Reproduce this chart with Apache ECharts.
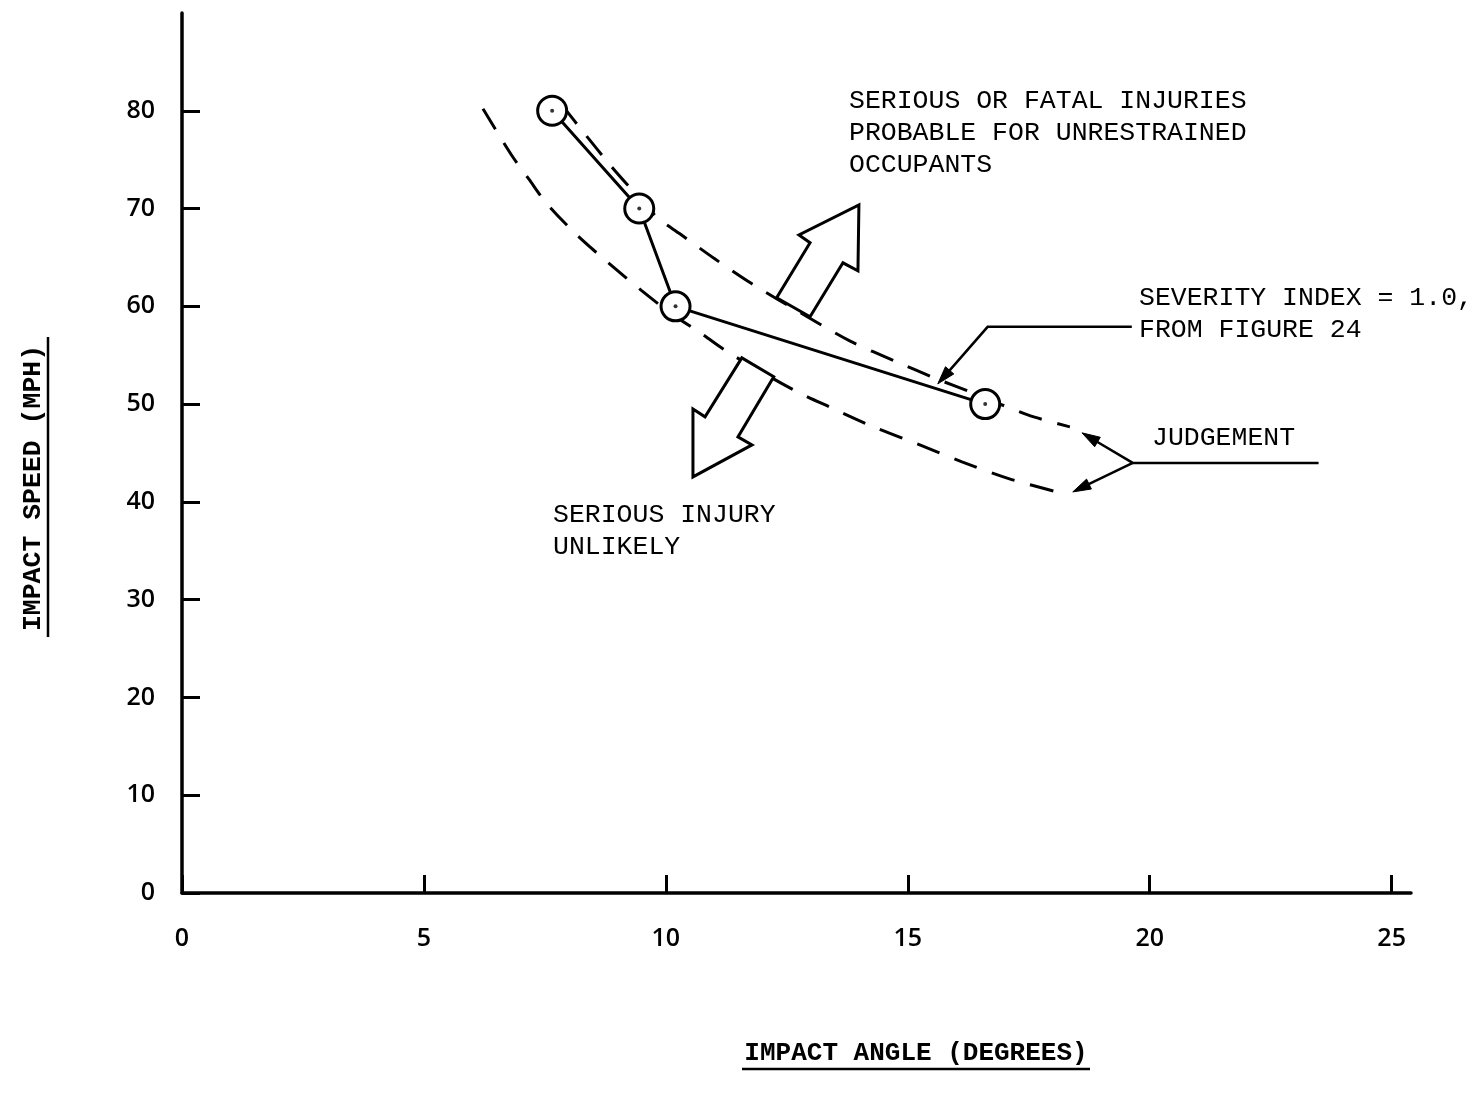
<!DOCTYPE html>
<html>
<head>
<meta charset="utf-8">
<script src="https://cdn.jsdelivr.net/npm/echarts@6/dist/echarts.min.js"></script>
<style>html,body{margin:0;padding:0;background:#fff}#c{width:1480px;height:1103px}</style>
</head>
<body>
<div id="c"></div>
<script>
// ---- data ----
const xTicks = [0, 5, 10, 15, 20, 25];
const yTicks = [0, 10, 20, 30, 40, 50, 60, 70, 80];
// Severity index = 1.0 points (impact angle deg, impact speed mph)
const severityPoints = [[7.65, 80], [9.45, 70], [10.2, 60], [16.6, 50]];
// Judgement curves (dashed)
const upperCurve = [[7.85, 80.6], [8.29, 77.85], [8.88, 74.27], [9.30, 71.92], [9.83, 69.05], [10.29, 67.42],
  [11.01, 64.86], [11.78, 62.30], [12.8, 59.3], [13.80, 56.47], [14.77, 54.32], [15.60, 52.58], [16.34, 51.15],
  [17.48, 48.90], [18.35, 47.67]];
const lowerCurve = [[6.22, 80.2], [6.82, 75.4], [7.17, 73.0], [7.54, 70.5], [8.16, 67.3], [8.80, 64.5],
  [9.50, 61.6], [10.1, 59.3], [10.74, 57.2], [11.32, 55.2], [12.62, 51.5], [13.43, 49.6], [14.28, 47.7],
  [15.21, 45.9], [16.12, 44.1], [17.07, 42.4], [18.18, 40.9]];
// Block arrows (region indicators)
const upArrow = [[13.99, 70.38], [13.97, 63.63], [13.66, 64.45], [12.98, 58.93], [12.29, 60.87], [12.98, 66.50], [12.75, 67.31]];
const downArrow = [[11.57, 54.73], [12.23, 52.79], [11.49, 46.65], [11.78, 45.83], [10.56, 42.56], [10.56, 49.51], [10.81, 48.70]];
// Leader lines (first point = arrow tip)
const leaderLines = [
  [[15.62, 52.07], [16.65, 57.9], [19.63, 57.9]],
  [[18.60, 47.06], [19.65, 43.99], [23.49, 43.99]],
  [[18.41, 41.02], [19.65, 43.99]]
];

const chart = echarts.init(document.getElementById('c'));
const monoFont = '"Liberation Mono", "DejaVu Sans Mono", monospace';
const tickFont = '"Open Sans", "DejaVu Sans", sans-serif';

const blockArrows = [upArrow, downArrow];

chart.setOption({
  backgroundColor: '#fff',
  animation: false,
  grid: { left: 182, right: 69, top: 13, bottom: 210 },
  xAxis: {
    type: 'value', min: 0, max: 25.4,
    axisLine: { show: true, onZero: false, lineStyle: { color: '#000', width: 3.5 } },
    axisTick: { show: true, inside: true, length: 18, customValues: xTicks, lineStyle: { color: '#000', width: 3 } },
    axisLabel: { customValues: xTicks, margin: 33, color: '#000', fontSize: 25, fontWeight: 600, fontFamily: tickFont },
    splitLine: { show: false }
  },
  yAxis: {
    type: 'value', min: 0, max: 90,
    axisLine: { show: true, onZero: false, lineStyle: { color: '#000', width: 3.5 } },
    axisTick: { show: true, inside: true, length: 18, customValues: yTicks, lineStyle: { color: '#000', width: 3 } },
    axisLabel: { customValues: yTicks, margin: 27, color: '#000', fontSize: 25, fontWeight: 600, fontFamily: tickFont },
    splitLine: { show: false }
  },
  series: [
    {
      type: 'line', data: upperCurve, smooth: 0.3, showSymbol: false, silent: true, z: 2,
      lineStyle: { color: '#000', width: 3, type: [24, 16] }
    },
    {
      type: 'line', data: lowerCurve, smooth: 0.3, showSymbol: false, silent: true, z: 2,
      lineStyle: { color: '#000', width: 3, type: [24, 16] }
    },
    {
      type: 'custom', z: 3, silent: true,
      data: blockArrows.map(a => a[0]),
      renderItem: function (params, api) {
        const pts = blockArrows[params.dataIndex].map(p => api.coord(p));
        return { type: 'polygon', shape: { points: pts }, style: { fill: '#fff', stroke: '#000', lineWidth: 3, lineJoin: 'miter' } };
      }
    },
    {
      type: 'custom', z: 4, silent: true,
      data: leaderLines.map(l => l[0]),
      renderItem: function (params, api) {
        const pts = leaderLines[params.dataIndex].map(p => api.coord(p));
        const tip = pts[0], prev = pts[1];
        const dx = tip[0] - prev[0], dy = tip[1] - prev[1];
        const len = Math.sqrt(dx * dx + dy * dy);
        const ux = dx / len, uy = dy / len;
        const hl = 18, hw = 5.5;
        const bx = tip[0] - ux * hl, by = tip[1] - uy * hl;
        const head = [tip, [bx - uy * hw, by + ux * hw], [bx + uy * hw, by - ux * hw]];
        return {
          type: 'group',
          children: [
            { type: 'polyline', shape: { points: [[bx + ux * 2, by + uy * 2]].concat(pts.slice(1)) }, style: { stroke: '#000', lineWidth: 2.5, fill: null } },
            { type: 'polygon', shape: { points: head }, style: { fill: '#000', stroke: '#000', lineWidth: 1 } }
          ]
        };
      }
    },
    {
      type: 'line', data: severityPoints, z: 5, silent: true,
      symbol: 'circle', symbolSize: 29,
      itemStyle: { color: '#fff', borderColor: '#000', borderWidth: 3 },
      lineStyle: { color: '#000', width: 3 }
    },
    {
      type: 'scatter', data: severityPoints, z: 6, silent: true,
      symbol: 'circle', symbolSize: 4,
      itemStyle: { color: '#000' }
    }
  ],
  graphic: [
    { type: 'text', z: 10, style: { text: 'SERIOUS OR FATAL INJURIES\nPROBABLE FOR UNRESTRAINED\nOCCUPANTS', x: 849, y: 85, fontSize: 26.5, lineHeight: 32, fontFamily: monoFont, fill: '#000', align: 'left', verticalAlign: 'top' } },
    { type: 'text', z: 10, style: { text: 'SEVERITY INDEX = 1.0,\nFROM FIGURE 24', x: 1139, y: 282, fontSize: 26.5, lineHeight: 32, fontFamily: monoFont, fill: '#000', align: 'left', verticalAlign: 'top' } },
    { type: 'text', z: 10, style: { text: 'JUDGEMENT', x: 1152, y: 422, fontSize: 26.5, lineHeight: 32, fontFamily: monoFont, fill: '#000', align: 'left', verticalAlign: 'top' } },
    { type: 'text', z: 10, style: { text: 'SERIOUS INJURY\nUNLIKELY', x: 553, y: 499, fontSize: 26.5, lineHeight: 32, fontFamily: monoFont, fill: '#000', align: 'left', verticalAlign: 'top' } },
    { type: 'text', z: 10, style: { text: 'IMPACT ANGLE (DEGREES)', x: 916, y: 1053, fontSize: 26, fontWeight: 'bold', fontFamily: monoFont, fill: '#000', align: 'center', verticalAlign: 'middle' } },
    { type: 'line', z: 10, shape: { x1: 742, y1: 1069, x2: 1090, y2: 1069 }, style: { stroke: '#000', lineWidth: 2.5 } },
    { type: 'text', z: 10, x: 33, y: 488, rotation: Math.PI / 2, style: { text: 'IMPACT SPEED (MPH)', x: 0, y: 0, fontSize: 26.5, fontWeight: 'bold', fontFamily: monoFont, fill: '#000', align: 'center', verticalAlign: 'middle' } },
    { type: 'line', z: 10, shape: { x1: 48, y1: 337, x2: 48, y2: 637 }, style: { stroke: '#000', lineWidth: 2.5 } }
  ]
});
</script>
</body>
</html>
